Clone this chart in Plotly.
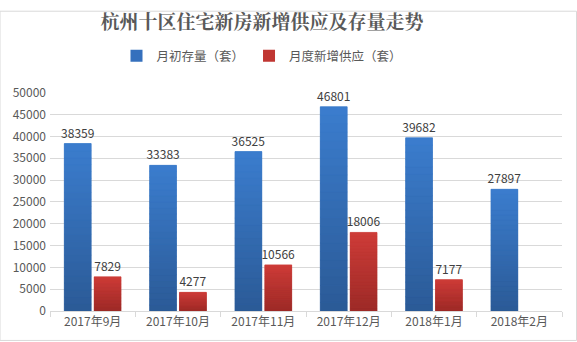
import plotly.graph_objects as go

months = ["2017年9月", "2017年10月", "2017年11月", "2017年12月", "2018年1月", "2018年2月"]
stock = [38359, 33383, 36525, 46801, 39682, 27897]
supply = [7829, 4277, 10566, 18006, 7177, None]

font_cjk = "Microsoft YaHei, Noto Sans CJK SC, sans-serif"
text_col = "#595959"
N_STEPS = 24  # vertical colour steps per bar


def mix(c_top, c_bot, t):
    """t=0 -> bottom colour, t=1 -> top colour."""
    return "rgb({},{},{})".format(*[round(b + (a - b) * t) for a, b in zip(c_top, c_bot)])


series = [
    ("月初存量（套）", stock, (59, 125, 206), (43, 90, 150), "#3570bd", "s"),
    ("月度新增供应（套）", supply, (206, 60, 56), (156, 42, 39), "#c03632", "r"),
]

fig = go.Figure()
for name, vals, top, bot, mid, grp in series:
    # base trace: legend entry and value labels
    fig.add_trace(go.Bar(
        name=name, x=months, y=vals, offsetgroup=grp,
        marker=dict(color=mid, line=dict(width=0)),
        text=[f"{v}" if v is not None else "" for v in vals], textposition="outside",
        constraintext="none", textfont=dict(size=12, color="#404040"),
        cliponaxis=False, hoverinfo="x+y",
    ))
    # gradient overlay, built from the same values
    for k in range(N_STEPS):
        t = (k + 0.5) / N_STEPS
        fig.add_trace(go.Bar(
            x=months,
            y=[v / N_STEPS if v is not None else None for v in vals],
            base=[v * k / N_STEPS if v is not None else None for v in vals],
            offsetgroup=grp, showlegend=False, hoverinfo="skip",
            marker=dict(color=mix(top, bot, t), line=dict(width=0.6, color=mix(top, bot, t))),
        ))

fig.update_layout(
    width=577, height=342,
    margin=dict(l=50, r=15, t=85, b=31),
    paper_bgcolor="white", plot_bgcolor="white",
    barmode="group", bargap=0.3, bargroupgap=0.1,
    font=dict(family=font_cjk, size=12, color=text_col),
    title=dict(text="<b>杭州十区住宅新房新增供应及存量走势</b>",
               x=262 / 577, xref="container", xanchor="center",
               y=1 - 22 / 342, yref="container", yanchor="middle",
               font=dict(size=19, color=text_col, family="Noto Serif CJK SC, Noto Sans CJK SC, serif")),
    legend=dict(orientation="h", x=262 / 577, xref="container", xanchor="center",
                y=1 - 56 / 342, yref="container", yanchor="middle",
                font=dict(size=12.5, color=text_col), itemwidth=30,
                traceorder="normal", itemclick=False, tracegroupgap=0),
    showlegend=True,
    shapes=[dict(type="rect", xref="paper", yref="paper",
                 x0=-50 / 512, x1=1 + 14.5 / 512, y0=-30.5 / 226, y1=1 + 84.5 / 226,
                 line=dict(color="#d9d9d9", width=1), fillcolor="rgba(0,0,0,0)", layer="below")],
)
fig.update_xaxes(
    showgrid=False, showline=True, linecolor="#d9d9d9", linewidth=1,
    ticks="outside", tickson="boundaries", ticklen=5, tickcolor="#d9d9d9",
    tickfont=dict(size=12, color=text_col),
)
fig.update_yaxes(
    range=[0, 50000], dtick=5000, showgrid=True, gridcolor="#d9d9d9", gridwidth=1,
    zeroline=False, showline=False, tickformat="d",
    tickfont=dict(size=12, color=text_col), ticks="", ticklabelstandoff=3,
)

fig.write_html("out.html")
